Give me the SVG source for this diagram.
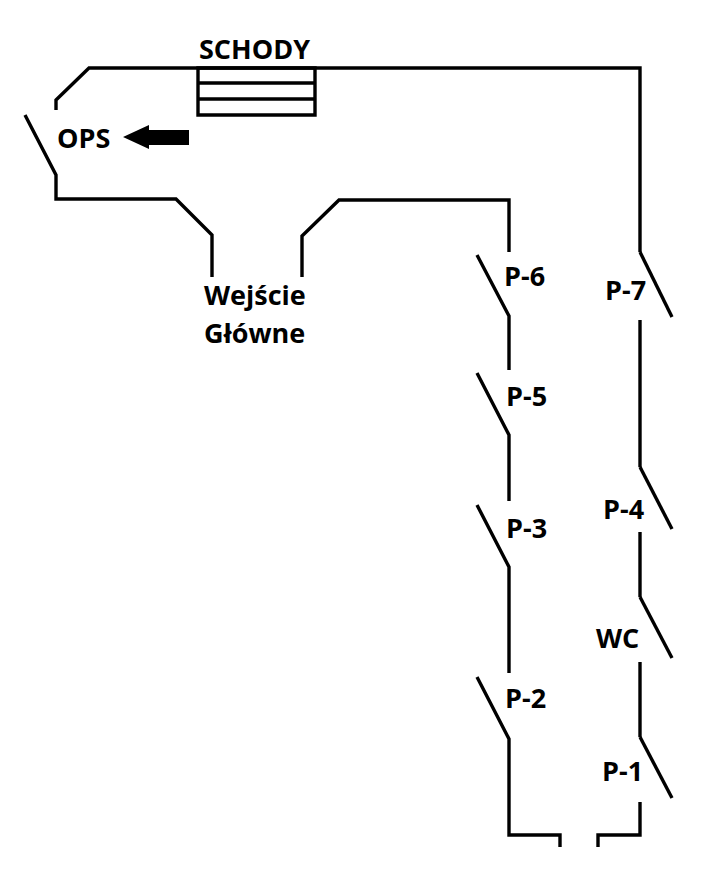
<svg xmlns="http://www.w3.org/2000/svg" width="704" height="888" viewBox="0 0 704 888">
<style>
.w{fill:none;stroke:#000;stroke-width:3.4;stroke-linejoin:miter}
text{font-family:"Open Sans","Liberation Sans",sans-serif;font-weight:700;font-size:27px;fill:#000}
</style>
<rect width="704" height="888" fill="#fff"/>
<g id="connectors">
<path class="w" d="M56 110V100L89 68H640V252"/>
<path class="w" d="M25 115L56 175V199H176L212 235V277"/>
<path class="w" d="M302 277V236L339 200H509V252"/>
<path class="w" d="M477 255L509 316V370"/>
<path class="w" d="M477 373L509 435V501"/>
<path class="w" d="M477 505L509 567V673"/>
<path class="w" d="M477 677L509 739V835H560V847"/>
<path class="w" d="M640 252L672 317"/>
<path class="w" d="M640 320V467"/>
<path class="w" d="M640 467L672 529"/>
<path class="w" d="M640 532V597"/>
<path class="w" d="M640 597L672 658"/>
<path class="w" d="M640 662V737"/>
<path class="w" d="M640 737L672 798"/>
<path class="w" d="M640 802V835H598V847"/>
</g>
<g id="schody"><path class="w" d="M198 68H315V115H198ZM198 83H315M198 99H315"/><text x="199" y="59">SCHODY</text></g>
<g id="ops"><text x="57" y="148">OPS</text><path d="M123 137L149 125V130H189V145H149V149Z" fill="#000"/></g>
<g id="wejscie"><text x="204" y="305">Wejście</text><text x="204" y="343">Główne</text></g>
<g id="p6"><text x="504" y="286">P-6</text></g>
<g id="p5"><text x="506" y="406">P-5</text></g>
<g id="p3"><text x="506" y="538">P-3</text></g>
<g id="p2"><text x="505" y="708">P-2</text></g>
<g id="p7"><text x="605" y="300">P-7</text></g>
<g id="p4"><text x="603" y="519">P-4</text></g>
<g id="wc"><text x="596" y="648">WC</text></g>
<g id="p1"><text x="602" y="781">P-1</text></g>
</svg>
